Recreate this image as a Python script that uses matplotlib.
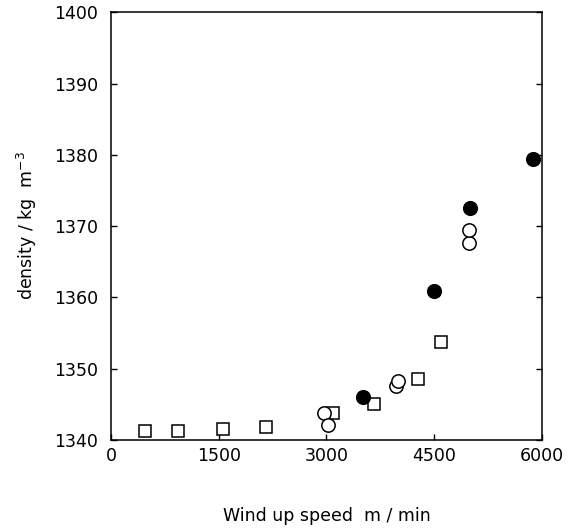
import matplotlib.pyplot as plt

# wind up speed (m/min) and density (kg m^-3) for each series
sq_speed = [473, 933, 1559, 2158, 3090, 3661, 4274, 4594]
sq_density = [1341.3, 1341.3, 1341.5, 1341.8, 1343.8, 1345.0, 1348.6, 1353.7]

open_speed = [2965, 3021, 3967, 3995, 4984, 4984]
open_density = [1343.8, 1342.1, 1347.6, 1348.3, 1367.6, 1369.4]

filled_speed = [3508, 4497, 4998, 5875]
filled_density = [1346.0, 1360.9, 1372.5, 1379.4]

x_ticks = [0, 1500, 3000, 4500, 6000]
y_ticks = [1340, 1350, 1360, 1370, 1380, 1390, 1400]

plt.rcParams['font.family'] = ['DejaVu Sans']

fig = plt.figure(figsize=(5.79, 5.31), dpi=100)
ax = fig.add_axes([0.1917, 0.1714, 0.7444, 0.8056])

ax.plot(sq_speed, sq_density, 's', ms=8.8, mfc='white', mec='black', mew=1.1, ls='none')
ax.plot(open_speed, open_density, 'o', ms=9.6, mfc='white', mec='black', mew=1.1, ls='none')
ax.plot(filled_speed, filled_density, 'o', ms=9.8, mfc='black', mec='black', mew=1.1, ls='none')

ax.set_xlim(0, 6000)
ax.set_ylim(1340, 1400)
ax.set_xticks(x_ticks)
ax.set_yticks(y_ticks)
ax.tick_params(direction='in', length=4, width=1, labelsize=12.5, top=False, right=True)
ax.tick_params(axis='y', pad=9)
ax.tick_params(axis='x', pad=5)
for s in ax.spines.values():
    s.set_linewidth(1.1)

ax.set_xlabel('Wind up speed  m / min', fontsize=12.5, labelpad=30)
ax.set_ylabel('density / kg  m$^{-3}$', fontsize=12.5, labelpad=11)

fig.savefig('out.png', dpi=100)
